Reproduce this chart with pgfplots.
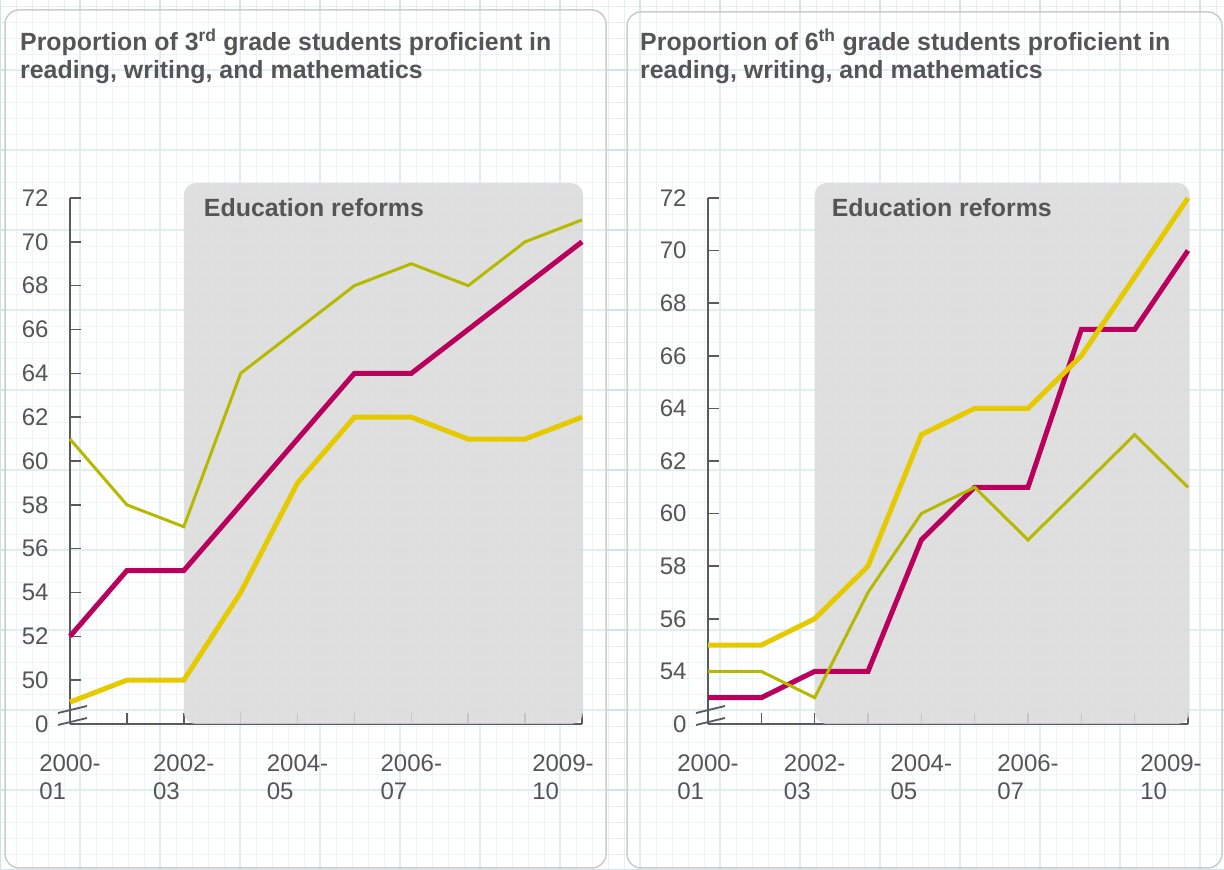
\documentclass[border=0pt]{standalone}
\usepackage{pgfplots}
\pgfplotsset{compat=1.18}
\usepackage{fontspec}
\setmainfont{Liberation Sans}
\definecolor{txtgray}{HTML}{555555}
\definecolor{axgray}{HTML}{5A5A5A}
\definecolor{olivec}{HTML}{B5B900}
\definecolor{magc}{HTML}{B8005C}
\definecolor{yelc}{HTML}{E6CA00}
\definecolor{gridminor}{HTML}{E3F1F3}
\definecolor{gridmajor}{HTML}{CDE5EA}
\definecolor{panelc}{HTML}{CCCCCC}
\definecolor{shadec}{HTML}{DADADA}

\pgfplotsset{
  panelaxis/.style={
    scale only axis, clip=false,
    anchor=south west,
    height=526pt,
    xmin=0, xmax=9,
    axis lines=left,
    axis line style={-, axgray, line width=1.8pt},
    tick style={axgray, line width=1.5pt},
    major tick length=11pt,
    tick align=inside,
    xtick={0,1,...,9},
    xticklabels={{2000-\\01},{},{2002-\\03},{},{2004-\\05},{},{2006-\\07},{},{},{}},
    extra x ticks={9},
    extra x tick labels={{2009-\\10}},
    xticklabel style={align=left, font=\fontsize{24}{28}\selectfont, text=txtgray, yshift=-27pt},
    yticklabel style={font=\fontsize{24}{28}\selectfont, text=txtgray, xshift=-18pt},
    every axis plot/.append style={line join=miter},
  },
  olivestyle/.style={olivec, line width=3pt},
  magstyle/.style={magc, line width=5pt},
  yelstyle/.style={yelc, line width=5pt},
}

\begin{document}
\begin{tikzpicture}[x=1pt,y=1pt]
\useasboundingbox (0,0) rectangle (1224,870);
% graph paper background
\draw[gridminor, line width=0.9pt] (0,0) grid[step=16] (1224,870);
\draw[gridmajor, line width=1.4pt] (0,0) grid[step=80] (1224,870);
% panels
\draw[panelc, line width=1.5pt, rounded corners=14pt, fill=white, fill opacity=0.35] (5,2) rectangle (606,860);
\draw[panelc, line width=1.5pt, rounded corners=14pt, fill=white, fill opacity=0.35] (627,2) rectangle (1222,858);
% titles
\node[anchor=base west, text=txtgray, font=\fontsize{24.9}{28}\selectfont\bfseries, inner sep=0pt] at (20,819) {Proportion of 3\textsuperscript{rd} grade students proficient in};
\node[anchor=base west, text=txtgray, font=\fontsize{24.9}{28}\selectfont\bfseries, inner sep=0pt] at (20,791) {reading, writing, and mathematics};
\node[anchor=base west, text=txtgray, font=\fontsize{24.9}{28}\selectfont\bfseries, inner sep=0pt] at (640,819) {Proportion of 6\textsuperscript{th} grade students proficient in};
\node[anchor=base west, text=txtgray, font=\fontsize{24.9}{28}\selectfont\bfseries, inner sep=0pt] at (640,791) {reading, writing, and mathematics};

% Left panel: 3rd grade
\begin{axis}[panelaxis, at={(70pt,146pt)}, width=512pt,
  ymin=48, ymax=72,
  ytick={48,50,...,72},
  yticklabels={0,50,52,54,56,58,60,62,64,66,68,70,72},
  extra x tick style={xticklabel style={xshift=-19pt}}]
\fill[shadec, fill opacity=0.85, rounded corners=12pt] (axis cs:2,48) rectangle (axis cs:9.02,72.68);
\node[anchor=west, text=txtgray, font=\fontsize{24.9}{28}\selectfont\bfseries, inner sep=0pt] at ([xshift=20pt,yshift=-10pt]axis cs:2,72) {Education reforms};
\draw[axgray, line width=1.8pt] ([xshift=-12pt,yshift=11pt]axis cs:0,48) -- ([xshift=17pt,yshift=18pt]axis cs:0,48);
\draw[axgray, line width=1.8pt] ([xshift=-12pt,yshift=-1pt]axis cs:0,48) -- ([xshift=17pt,yshift=6pt]axis cs:0,48);
\addplot[magstyle] coordinates {(0,52) (1,55) (2,55) (3,58) (4,61) (5,64) (6,64) (7,66) (8,68) (9,70)};
\addplot[yelstyle] coordinates {(0,49) (1,50) (2,50) (3,54) (4,59) (5,62) (6,62) (7,61) (8,61) (9,62)};
\addplot[olivestyle] coordinates {(0,61) (1,58) (2,57) (3,64) (4,66) (5,68) (6,69) (7,68) (8,70) (9,71)};
\end{axis}

% Right panel: 6th grade
\begin{axis}[panelaxis, at={(708pt,146pt)}, width=480pt,
  ymin=52, ymax=72,
  ytick={52,54,...,72},
  yticklabels={0,54,56,58,60,62,64,66,68,70,72},
  extra x tick style={xticklabel style={xshift=-17pt}}]
\fill[shadec, fill opacity=0.85, rounded corners=12pt] (axis cs:2,52) rectangle (axis cs:9.03,72.57);
\node[anchor=west, text=txtgray, font=\fontsize{24.9}{28}\selectfont\bfseries, inner sep=0pt] at ([xshift=17pt,yshift=-10pt]axis cs:2,72) {Education reforms};
\draw[axgray, line width=1.8pt] ([xshift=-12pt,yshift=11pt]axis cs:0,52) -- ([xshift=17pt,yshift=18pt]axis cs:0,52);
\draw[axgray, line width=1.8pt] ([xshift=-12pt,yshift=-1pt]axis cs:0,52) -- ([xshift=17pt,yshift=6pt]axis cs:0,52);
\addplot[magstyle] coordinates {(0,53) (1,53) (2,54) (3,54) (4,59) (5,61) (6,61) (7,67) (8,67) (9,70)};
\addplot[yelstyle] coordinates {(0,55) (1,55) (2,56) (3,58) (4,63) (5,64) (6,64) (7,66) (8,69) (9,72)};
\addplot[olivestyle] coordinates {(0,54) (1,54) (2,53) (3,57) (4,60) (5,61) (6,59) (7,61) (8,63) (9,61)};
\end{axis}
\end{tikzpicture}
\end{document}
